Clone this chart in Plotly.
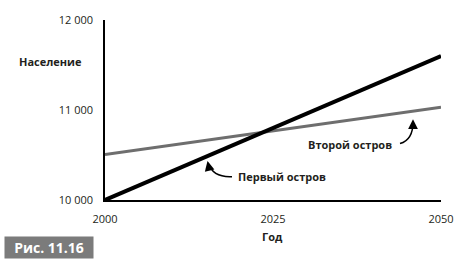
import plotly.graph_objects as go

years = [2000, 2050]
island1 = [10000, 11600]   # Первый остров
island2 = [10505, 11030]   # Второй остров
x_ticks = [2000, 2025, 2050]
y_ticks = [10000, 11000, 12000]

W, H = 470, 270
L, R, T, B = 105, 29, 15, 70
pw, ph = W - L - R, H - T - B

def px(x):  # pixel x -> paper
    return (x - L) / pw

def py(y):  # pixel y -> paper
    return (H - B - y) / ph

def dx(x):  # pixel x -> year
    return 2000 + (x - L) / pw * 50

def dy(y):  # pixel y -> population
    return 10000 + (H - B - y) / ph * 2000

fig = go.Figure()
fig.add_trace(go.Scatter(x=years, y=island2, mode="lines",
                         line=dict(color="#6e6e6e", width=3), name="Второй остров"))
fig.add_trace(go.Scatter(x=years, y=island1, mode="lines",
                         line=dict(color="#000000", width=4), name="Первый остров"))

font = "Open Sans, DejaVu Sans, sans-serif"
tf = dict(family=font, size=11, color="#231f20")
bf = dict(family=font, size=11, color="#231f20", weight="bold")

# curved arrow paths
def curve(p0, c, p1):
    return f"M {dx(p0[0])},{dy(p0[1])} Q {dx(c[0])},{dy(c[1])} {dx(p1[0])},{dy(p1[1])}"

fig.add_shape(type="path", path=curve((232, 176), (213, 177), (208, 162)),
              xref="x", yref="y", line=dict(color="#000", width=1.5))
fig.add_shape(type="path", path=curve((400, 142), (413, 138), (413, 120)),
              xref="x", yref="y", line=dict(color="#000", width=1.5))

anns = [
    dict(x=dx(207.5), y=dy(160), ax=2, ay=9, showarrow=True, arrowhead=2,
         arrowsize=1.3, arrowwidth=1.5, arrowcolor="#000", text=""),
    dict(x=dx(413), y=dy(117), ax=0, ay=9, showarrow=True, arrowhead=2,
         arrowsize=1.3, arrowwidth=1.5, arrowcolor="#000", text=""),
    dict(x=dx(236), y=dy(176), xanchor="left", yanchor="middle", showarrow=False,
         text="Первый остров", font=bf),
    dict(x=dx(394), y=dy(143), xanchor="right", yanchor="middle", showarrow=False,
         text="Второй остров", font=bf),
]
for a in anns:
    a.setdefault("xref", "x")
    a.setdefault("yref", "y")
    fig.add_annotation(**a)

fig.add_annotation(xref="paper", yref="paper", x=px(84), y=py(58), xanchor="right",
                   yanchor="middle", text="Население", showarrow=False, font=bf)
fig.add_annotation(xref="paper", yref="paper", x=px(272), y=py(237), xanchor="center",
                   yanchor="middle", text="Год", showarrow=False, font=bf)
fig.add_annotation(xref="paper", yref="paper", x=px(4), y=py(237), xanchor="left",
                   yanchor="top", text="Рис. 11.16", showarrow=False,
                   bgcolor="#7b7b7b", width=88, height=21, borderpad=0,
                   font=dict(family=font, size=14, color="#ffffff", weight="bold"))

fig.update_layout(
    width=W, height=H, margin=dict(l=L, r=R, t=T, b=B),
    plot_bgcolor="white", paper_bgcolor="white", showlegend=False,
    separators=", ",
    xaxis=dict(range=[2000, 2050], tickvals=x_ticks, tickformat="d",
               showgrid=False, zeroline=False, showline=True, linecolor="#000",
               linewidth=1.5, ticks="", tickfont=tf, ticklabelstandoff=8),
    yaxis=dict(range=[10000, 12000], tickvals=y_ticks, tickformat=",d",
               showgrid=False, zeroline=False, showline=True, linecolor="#000",
               linewidth=1.5, ticks="", tickfont=tf, ticklabelstandoff=8),
)
fig.write_html("out.html")
